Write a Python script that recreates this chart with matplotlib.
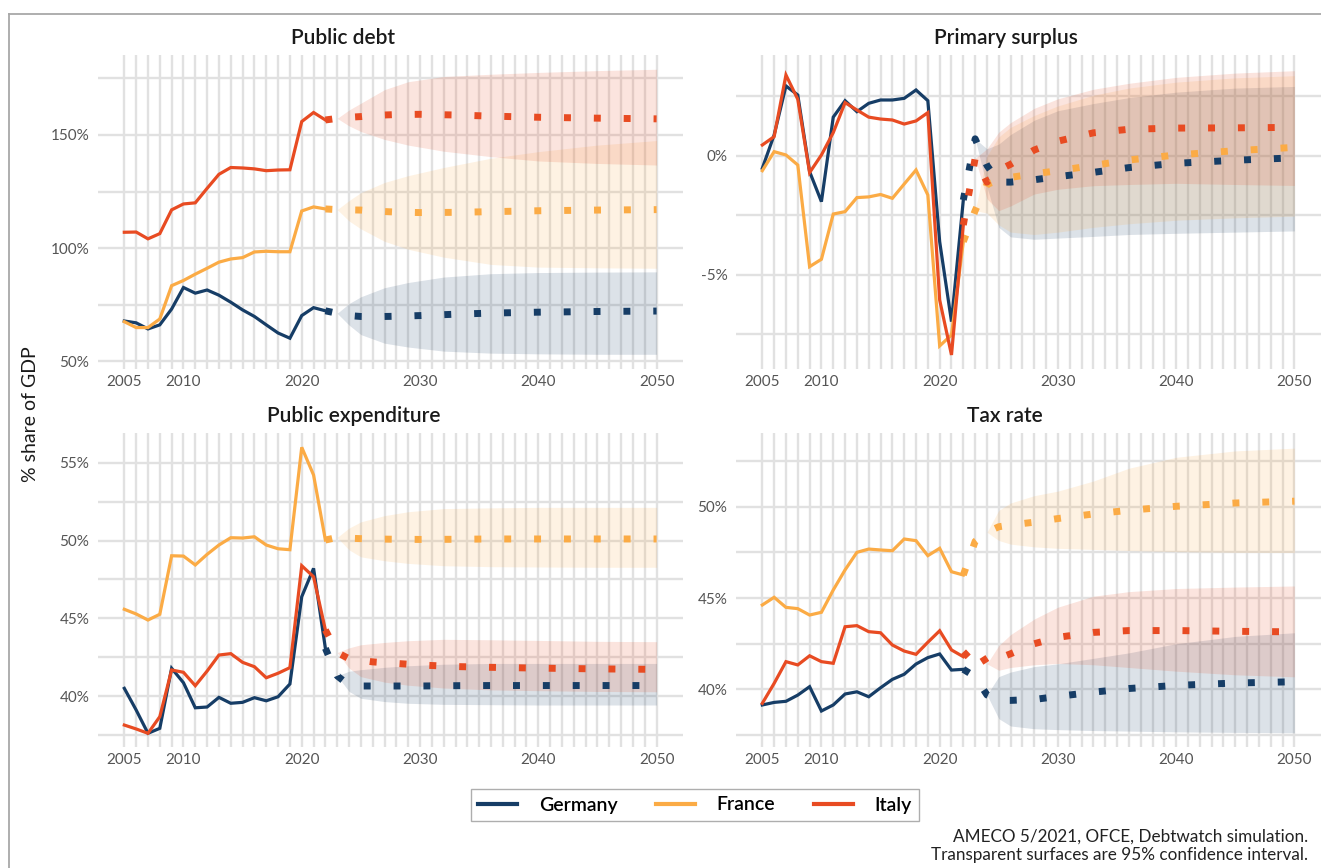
import matplotlib
matplotlib.use("Agg")
import matplotlib.pyplot as plt
from matplotlib.lines import Line2D

plt.rcParams["font.family"] = ["Lato", "DejaVu Sans"]

# ---- data ----
years_hist = list(range(2005, 2023))
proj_years = [2022, 2023, 2024, 2025, 2026, 2028, 2030, 2033, 2036, 2040, 2045, 2050]
countries = ["Germany", "France", "Italy"]

# Public debt
de_debt = [67.8, 67.0, 64.3, 66.1, 73.1, 82.6, 80.1, 81.5, 79.2, 76.1, 72.7, 69.8, 66.1, 62.5, 60.2, 70.2, 73.7, 72.3]
fr_debt = [67.5, 64.9, 64.9, 68.7, 83.4, 85.7, 88.5, 91.1, 93.8, 95.2, 95.8, 98.3, 98.6, 98.4, 98.4, 116.4, 118.2, 117.3]
it_debt = [107.0, 107.1, 104.1, 106.4, 116.9, 119.5, 120.0, 126.4, 132.6, 135.6, 135.4, 135.0, 134.2, 134.5, 134.6, 155.9, 159.9, 156.6]
de_debt_proj = [72.3, 71.2, 70.2, 69.8, 69.7, 69.9, 70.2, 70.8, 71.3, 71.7, 72.0, 72.2]
fr_debt_proj = [117.3, 117.0, 116.9, 116.8, 116.4, 115.9, 115.7, 115.8, 116.1, 116.5, 116.8, 117.0]
it_debt_proj = [156.6, 157.3, 157.8, 158.1, 158.6, 159.0, 159.1, 158.8, 158.3, 157.8, 157.4, 157.1]
debt_ci_years = [2023, 2024, 2025, 2027, 2029, 2032, 2036, 2040, 2045, 2050]
de_debt_lo = [71.2, 66.0, 61.8, 58.0, 56.3, 54.5, 53.6, 53.3, 53.1, 53.1]
de_debt_hi = [71.2, 75.5, 78.5, 82.5, 84.8, 87.2, 88.7, 89.2, 89.4, 89.5]
fr_debt_lo = [117.0, 112.0, 108.5, 103.0, 99.5, 96.0, 92.8, 91.6, 91.3, 91.1]
fr_debt_hi = [117.0, 121.0, 124.5, 129.0, 132.0, 135.6, 139.7, 142.6, 145.5, 147.5]
it_debt_lo = [157.3, 154.0, 151.5, 148.0, 145.5, 142.8, 140.4, 138.5, 137.4, 136.7]
it_debt_hi = [157.3, 161.0, 164.0, 170.0, 173.5, 175.8, 176.8, 177.6, 178.4, 179.0]

# Primary surplus
de_prim = [-0.52, 0.88, 2.94, 2.56, -0.66, -1.92, 1.63, 2.32, 1.86, 2.21, 2.35, 2.35, 2.42, 2.77, 2.32, -3.60, -6.96, -1.85]
fr_prim = [-0.62, 0.18, 0.04, -0.38, -4.65, -4.34, -2.44, -2.34, -1.75, -1.72, -1.62, -1.78, -1.18, -0.59, -1.64, -7.98, -7.52, -3.60]
it_prim = [0.46, 0.81, 3.40, 2.38, -0.70, 0.04, 0.98, 2.24, 1.93, 1.63, 1.55, 1.51, 1.34, 1.47, 1.82, -6.05, -8.36, -2.90]
de_prim_proj = [-1.85, 0.72, -0.40, -1.10, -1.10, -1.00, -0.87, -0.69, -0.49, -0.31, -0.18, -0.08]
fr_prim_proj = [-3.60, -2.30, -1.20, -1.00, -0.90, -0.75, -0.62, -0.40, -0.17, 0.04, 0.22, 0.36]
it_prim_proj = [-2.90, -0.10, -1.10, -0.60, -0.35, 0.25, 0.62, 0.97, 1.12, 1.17, 1.18, 1.20]
prim_ci_years = [2023, 2024, 2025, 2026, 2028, 2030, 2033, 2036, 2040, 2045, 2050]
de_prim_lo = [0.72, -1.3, -3.0, -3.4, -3.5, -3.45, -3.38, -3.3, -3.25, -3.2, -3.15]
de_prim_hi = [0.72, 0.3, 0.5, 0.9, 1.5, 1.9, 2.2, 2.45, 2.68, 2.85, 2.92]
fr_prim_lo = [-2.3, -2.4, -2.9, -3.2, -3.3, -3.2, -3.0, -2.85, -2.7, -2.6, -2.53]
fr_prim_hi = [-2.3, 0.0, 0.8, 1.2, 1.7, 2.1, 2.55, 2.85, 3.1, 3.28, 3.37]
it_prim_lo = [-0.1, -1.8, -2.3, -2.1, -1.6, -1.4, -1.25, -1.2, -1.15, -1.2, -1.24]
it_prim_hi = [-0.1, 0.3, 1.0, 1.4, 2.0, 2.4, 2.8, 3.05, 3.3, 3.48, 3.58]

# Public expenditure
de_exp = [40.5, 39.11, 37.61, 37.93, 41.79, 40.86, 39.25, 39.3, 39.92, 39.54, 39.6, 39.9, 39.7, 39.96, 40.78, 46.39, 48.21, 43.07]
fr_exp = [45.58, 45.28, 44.89, 45.26, 49.02, 49.0, 48.43, 49.11, 49.71, 50.18, 50.16, 50.24, 49.71, 49.47, 49.41, 55.99, 54.21, 50.03]
it_exp = [38.14, 37.89, 37.61, 38.68, 41.68, 41.53, 40.67, 41.61, 42.64, 42.73, 42.17, 41.89, 41.18, 41.47, 41.83, 48.38, 47.67, 44.25]
de_exp_proj = [43.07, 41.3, 40.7, 40.65, 40.65, 40.65, 40.65, 40.67, 40.68, 40.68, 40.68, 40.68]
fr_exp_proj = [50.03, 50.2, 50.15, 50.12, 50.1, 50.08, 50.07, 50.08, 50.1, 50.1, 50.1, 50.1]
it_exp_proj = [44.25, 42.8, 42.4, 42.3, 42.2, 42.1, 42.0, 41.9, 41.85, 41.8, 41.75, 41.72]
exp_ci_years = [2023, 2024, 2025, 2027, 2029, 2032, 2036, 2040, 2045, 2050]
de_exp_lo = [41.3, 40.3, 39.86, 39.65, 39.54, 39.47, 39.45, 39.43, 39.43, 39.43]
de_exp_hi = [41.3, 41.6, 41.7, 41.85, 41.95, 42.05, 42.1, 42.1, 42.1, 42.1]
fr_exp_lo = [50.2, 49.4, 48.95, 48.7, 48.53, 48.38, 48.32, 48.3, 48.28, 48.28]
fr_exp_hi = [50.2, 50.8, 51.2, 51.6, 51.85, 52.05, 52.1, 52.13, 52.13, 52.13]
it_exp_lo = [42.8, 41.8, 41.25, 40.9, 40.7, 40.52, 40.4, 40.35, 40.3, 40.28]
it_exp_hi = [42.8, 43.1, 43.3, 43.45, 43.56, 43.65, 43.62, 43.58, 43.52, 43.5]

# Tax rate
de_tax = [39.15, 39.29, 39.35, 39.69, 40.15, 38.82, 39.15, 39.75, 39.87, 39.6, 40.09, 40.55, 40.83, 41.39, 41.74, 41.94, 41.06, 41.1]
fr_tax = [44.62, 45.04, 44.49, 44.42, 44.07, 44.22, 45.44, 46.54, 47.5, 47.68, 47.63, 47.59, 48.23, 48.14, 47.32, 47.72, 46.44, 46.26]
it_tax = [39.24, 40.33, 41.52, 41.34, 41.84, 41.52, 41.43, 43.43, 43.49, 43.16, 43.1, 42.43, 42.1, 41.92, 42.58, 43.21, 42.16, 41.79]
de_tax_proj = [41.1, 40.7, 39.7, 39.4, 39.4, 39.45, 39.62, 39.85, 40.05, 40.22, 40.35, 40.42]
fr_tax_proj = [46.26, 48.1, 48.6, 48.9, 49.0, 49.15, 49.35, 49.6, 49.8, 50.02, 50.2, 50.3]
it_tax_proj = [41.79, 42.4, 41.4, 41.7, 41.95, 42.5, 42.85, 43.12, 43.22, 43.22, 43.18, 43.15]
tax_ci_years = [2024, 2025, 2026, 2028, 2030, 2033, 2036, 2040, 2045, 2050]
de_tax_lo = [39.7, 38.4, 38.0, 37.85, 37.8, 37.75, 37.72, 37.68, 37.65, 37.63]
de_tax_hi = [39.7, 40.7, 40.95, 41.25, 41.4, 41.7, 42.0, 42.5, 42.9, 43.1]
fr_tax_lo = [48.6, 48.15, 47.95, 47.8, 47.72, 47.66, 47.6, 47.54, 47.5, 47.49]
fr_tax_hi = [48.6, 49.8, 50.2, 50.6, 50.85, 51.4, 52.1, 52.7, 53.05, 53.2]
it_tax_lo = [41.4, 41.05, 41.2, 41.35, 41.42, 41.35, 41.2, 41.0, 40.8, 40.69]
it_tax_hi = [41.4, 42.4, 43.0, 43.85, 44.5, 45.1, 45.35, 45.52, 45.6, 45.66]

colors = {"Germany": "#163d66", "France": "#fbab45", "Italy": "#e84b22"}

# panel specs: title, axes rect (pixels), y limits, major / minor y ticks, title x, series
W, H = 1321, 868
panels = [
    ("Public debt", (97.7, 55, 585.5, 314), (46.6, 185.3), [50, 100, 150], [75, 125, 175], 343,
     [(de_debt, de_debt_proj, debt_ci_years, de_debt_lo, de_debt_hi),
      (fr_debt, fr_debt_proj, debt_ci_years, fr_debt_lo, fr_debt_hi),
      (it_debt, it_debt_proj, debt_ci_years, it_debt_lo, it_debt_hi)]),
    ("Primary surplus", (735.7, 55, 585.3, 314), (-8.95, 4.24), [-5, 0], [-7.5, -2.5, 2.5], 1006,
     [(de_prim, de_prim_proj, prim_ci_years, de_prim_lo, de_prim_hi),
      (fr_prim, fr_prim_proj, prim_ci_years, fr_prim_lo, fr_prim_hi),
      (it_prim, it_prim_proj, prim_ci_years, it_prim_lo, it_prim_hi)]),
    ("Public expenditure", (97.7, 433, 585.5, 314), (36.73, 56.91), [40, 45, 50, 55], [37.5, 42.5, 47.5, 52.5], 354,
     [(de_exp, de_exp_proj, exp_ci_years, de_exp_lo, de_exp_hi),
      (fr_exp, fr_exp_proj, exp_ci_years, fr_exp_lo, fr_exp_hi),
      (it_exp, it_exp_proj, exp_ci_years, it_exp_lo, it_exp_hi)]),
    ("Tax rate", (735.7, 433, 585.3, 314), (36.85, 54.03), [40, 45, 50], [37.5, 42.5, 47.5, 52.5], 1005,
     [(de_tax, de_tax_proj, tax_ci_years, de_tax_lo, de_tax_hi),
      (fr_tax, fr_tax_proj, tax_ci_years, fr_tax_lo, fr_tax_hi),
      (it_tax, it_tax_proj, tax_ci_years, it_tax_lo, it_tax_hi)]),
]

fig = plt.figure(figsize=(W / 100, H / 100), dpi=100)
fig.patch.set_facecolor("white")

for title, (px, py, pw, ph), ylim, yt, ytm, tx, series in panels:
    ax = fig.add_axes([px / W, 1 - (py + ph) / H, pw / W, ph / H])
    # ribbons first
    for name, (hist, proj, ci_y, lo, hi) in zip(countries, series):
        ax.fill_between(ci_y, lo, hi, color=colors[name], alpha=0.15, lw=0)
    for name, (hist, proj, ci_y, lo, hi) in zip(countries, series):
        ax.plot(years_hist, hist, color=colors[name], lw=2.3, solid_joinstyle="miter")
        ax.plot(proj_years, proj, color=colors[name], lw=5, linestyle=(0, (1, 3.3)))
    ax.set_xlim(2002.75, 2052.25)
    ax.set_ylim(*ylim)
    ax.set_xticks([2005, 2010, 2020, 2030, 2040, 2050])
    ax.set_xticks(range(2005, 2051), minor=True)
    ax.set_yticks(yt)
    ax.set_yticklabels([f"{v}%" for v in yt])
    ax.set_yticks(ytm, minor=True)
    ax.grid(which="both", color="#e1e1e1", lw=1.7)
    ax.set_axisbelow(True)
    ax.tick_params(which="both", length=0, labelsize=11, labelcolor="#555555")
    ax.tick_params(axis="y", pad=6)
    ax.tick_params(axis="x", pad=4)
    for s in ax.spines.values():
        s.set_visible(False)
    fig.text(tx / W, 1 - (py - 17) / H, title, ha="center", va="center",
             fontsize=15, fontweight="semibold", color="#1a1a1a")

fig.text(30 / W, 1 - 414 / H, "% share of GDP", rotation=90, ha="center", va="center",
         fontsize=14, color="#1a1a1a")

handles = [Line2D([0], [0], color=colors[c], lw=3) for c in countries]
leg = fig.legend(handles, countries, loc="center", bbox_to_anchor=(695 / W, 1 - 805 / H),
                 ncol=3, frameon=True, fancybox=False, edgecolor="#9a9a9a",
                 handlelength=2.0, columnspacing=2.0, handletextpad=1.1,
                 prop={"size": 14, "weight": "semibold"}, borderpad=0.4)
leg.get_frame().set_linewidth(1.0)

fig.text(1308 / W, 1 - 846 / H,
         "AMECO 5/2021, OFCE, Debtwatch simulation.\nTransparent surfaces are 95% confidence interval.",
         ha="right", va="center", fontsize=12.3, color="#222222", linespacing=1.15)

# outer frame (top and left edges)
fig.add_artist(Line2D([8.7 / W, 8.7 / W], [0, 1 - 14 / H], transform=fig.transFigure, color="#a8a8a8", lw=1.3))
fig.add_artist(Line2D([8.7 / W, 1], [1 - 14 / H, 1 - 14 / H], transform=fig.transFigure, color="#a8a8a8", lw=1.3))

fig.savefig("out.png", dpi=100)
